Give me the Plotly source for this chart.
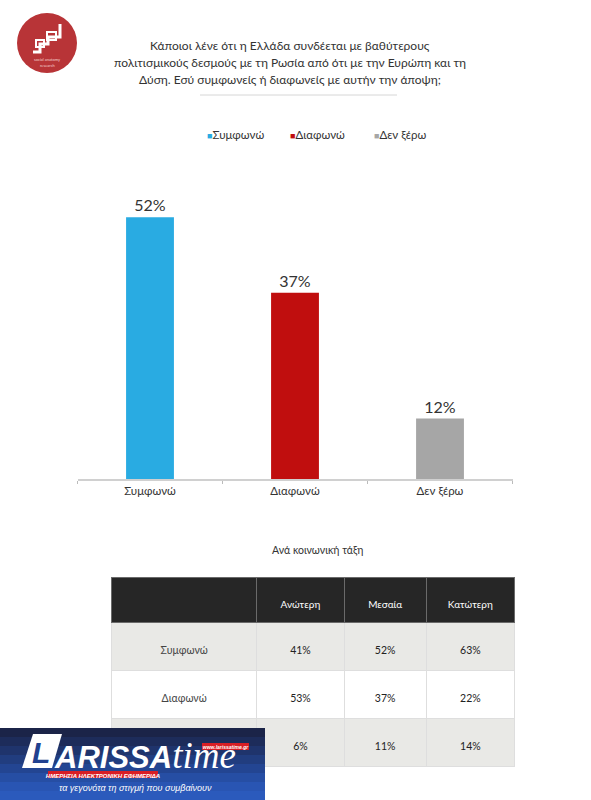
import plotly.graph_objects as go

W, H = 591, 800
FONT = "Lato"

# ---- data ----
categories = ["Συμφωνώ", "Διαφωνώ", "Δεν ξέρω"]
values = [52, 37, 12]
colors = ["#29abe2", "#c00e0e", "#a6a6a6"]
labels = ["52%", "37%", "12%"]

table_cols = ["", "Ανώτερη", "Μεσαία", "Κατώτερη"]
row_labels = ["Συμφωνώ", "Διαφωνώ", "Δεν ξέρω"]
upper = ["41%", "53%", "6%"]
middle = ["52%", "37%", "11%"]
lower = ["63%", "22%", "14%"]

title_lines = ["Κάποιοι λένε ότι η Ελλάδα συνδέεται με βαθύτερους",
               "πολιτισμικούς δεσμούς με τη Ρωσία από ότι με την Ευρώπη και τη",
               "Δύση. Εσύ συμφωνείς ή διαφωνείς με αυτήν την άποψη;"]
table_title = "Ανά κοινωνική τάξη"


def px(x):
    return x / W


def py(y):
    return 1 - y / H


def note(x, y, text, size, color="#333333", family=FONT):
    return dict(x=px(x), y=py(y), xref="paper", yref="paper", text=text,
                showarrow=False, xanchor="center", yanchor="middle",
                font=dict(size=size, color=color, family=family))


fig = go.Figure()
for c, v, col, lab in zip(categories, values, colors, labels):
    fig.add_trace(go.Bar(
        x=[c], y=[v], name=c, marker=dict(color=col, line=dict(width=0)),
        width=0.33, text=[lab], textposition="outside", cliponaxis=False,
        textfont=dict(size=16, color="#333333", family=FONT),
        showlegend=False))

row_fill = ["#e9e9e6", "#ffffff", "#e9e9e6"]


def lift(vals):
    # an invisible first line pushes the text toward the middle of the tall cells
    return ["&nbsp;<br>" + v if v else v for v in vals]


fig.add_trace(go.Table(
    domain=dict(x=[px(111.5), px(514.5)], y=[py(767), py(577)]),
    columnwidth=[145, 87, 82, 88],
    header=dict(values=lift(table_cols), fill_color="#262626", height=45,
                line=dict(color="#6a6a6a", width=1), align="center",
                font=dict(color="white", size=10, family=FONT)),
    cells=dict(values=[lift(row_labels), lift(upper), lift(middle), lift(lower)],
               fill_color=[row_fill] * 4, height=48,
               line=dict(color="#dedede", width=1), align="center",
               font=dict(color=["#444444", "#222222", "#222222", "#222222"], size=10.5, family=FONT)),
))

ann = []
for ty, line in zip([45, 62, 79], title_lines):
    ann.append(note(290, ty, line, 12))
# legend (manual)
leg_x = [235, 318, 400]
for c, col, lx in zip(categories, colors, leg_x):
    ann.append(note(lx, 134, f"<span style='color:{col};font-size:9px'>■</span>{c}", 11.5))
ann.append(note(318, 550, table_title, 10.5))
# logo tiny text
ann.append(note(47, 60, "social anatomy", 4, "#f3d0d0"))
ann.append(note(47, 65, "research", 4, "#f3d0d0"))

shapes = []
# separator under title
shapes.append(dict(type="line", xref="paper", yref="paper", x0=px(200), x1=px(397), y0=py(95), y1=py(95),
                   line=dict(color="#d6d6d6", width=1)))
# logo circle
shapes.append(dict(type="circle", xref="paper", yref="paper", x0=px(17), x1=px(77), y0=py(73), y1=py(13),
                   fillcolor="#b83437", line=dict(width=0)))
logo_path = ("M {0},{1} L {2},{1} L {2},{3} L {4},{3} L {4},{5} L {6},{5} L {6},{7}").format(
    px(33), py(52), px(40), py(44), px(48), py(37), px(60), py(24))
shapes.append(dict(type="path", xref="paper", yref="paper", path=logo_path,
                   line=dict(color="white", width=3)))
shapes.append(dict(type="rect", xref="paper", yref="paper", x0=px(36), x1=px(44), y0=py(47), y1=py(40),
                   line=dict(color="white", width=2)))
shapes.append(dict(type="rect", xref="paper", yref="paper", x0=px(47), x1=px(56), y0=py(40), y1=py(32),
                   line=dict(color="white", width=2)))

# watermark (overlay banner)
band_cols = ["#1b2448", "#1d2c5a", "#1f346c", "#213d7f", "#234592", "#264ea4", "#2955b3", "#2b5abc"]
y0 = 728
step = (800 - 728) / len(band_cols)
for i, bc in enumerate(band_cols):
    shapes.append(dict(type="rect", xref="paper", yref="paper", x0=0, x1=px(265),
                       y0=py(y0 + (i + 1) * step + 0.5), y1=py(y0 + i * step),
                       fillcolor=bc, line=dict(width=0), layer="above"))
# white slanted L block
lpath = "M {},{} L {},{} L {},{} L {},{} Z".format(px(33), py(734), px(62), py(734), px(52), py(768), px(22), py(768))
shapes.append(dict(type="path", xref="paper", yref="paper", path=lpath, fillcolor="white",
                   line=dict(width=0), layer="above"))
shapes.append(dict(type="rect", xref="paper", yref="paper", x0=px(48), x1=px(158), y0=py(778), y1=py(771),
                   fillcolor="#d81e25", line=dict(width=0), layer="above",
                   label=dict(text="<b><i>ΗΜΕΡΗΣΙΑ ΗΛΕΚΤΡΟΝΙΚΗ ΕΦΗΜΕΡΙΔΑ</i></b>",
                              font=dict(size=6, color="white", family="Liberation Sans"),
                              textposition="middle center")))
shapes.append(dict(type="rect", xref="paper", yref="paper", x0=px(202), x1=px(249), y0=py(750), y1=py(743),
                   fillcolor="#d81e25", line=dict(width=0), layer="above",
                   label=dict(text="<b><i>www.larissatime.gr</i></b>",
                              font=dict(size=5, color="white", family="Liberation Sans"),
                              textposition="middle center")))

ann.append(note(41, 752, "<b><i>L</i></b>", 30, "#21418f", "Liberation Sans"))
ann.append(note(145, 755, "<b><i>ARISSA</i></b><span style='font-family:Liberation Serif;font-size:37px'>"
                "<i>time</i></span>", 31, "white", "Liberation Sans"))
ann.append(note(135, 788, "<i>τα γεγονότα τη στιγμή που συμβαίνουν</i>", 9, "white", "Liberation Sans"))

fig.update_layout(
    width=W, height=H, margin=dict(l=0, r=0, t=0, b=0),
    paper_bgcolor="white", plot_bgcolor="white",
    barmode="overlay", showlegend=False,
    font=dict(family=FONT, color="#333333"),
    xaxis=dict(domain=[px(77.5), px(512.5)], showgrid=False, showline=True,
               linecolor="#d0d0d0", linewidth=2, ticks="outside", tickson="boundaries",
               ticklen=3, tickcolor="#bbbbbb", tickfont=dict(size=11.5, color="#333333", family=FONT),
               categoryorder="array", categoryarray=categories, fixedrange=True),
    yaxis=dict(domain=[py(479), py(177)], range=[0, 60], visible=False, fixedrange=True),
    annotations=ann, shapes=shapes,
)

fig.write_html("out.html", config={"displayModeBar": False},
               post_script="document.body.style.margin='0px';")
